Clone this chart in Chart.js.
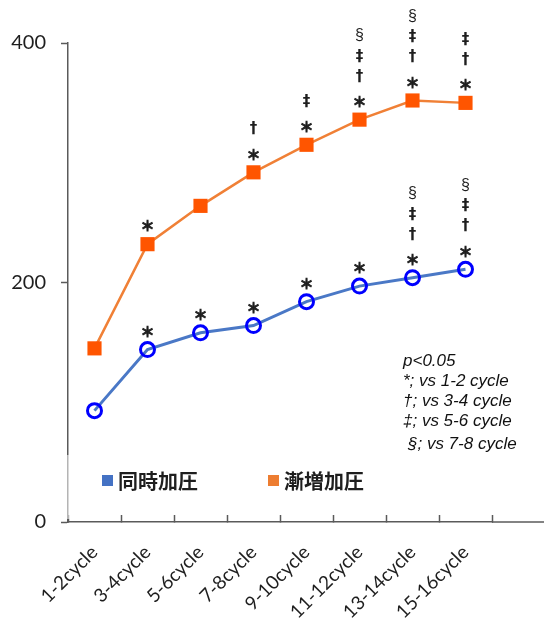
<!DOCTYPE html>
<html>
<head>
<meta charset="utf-8">
<script src="https://cdn.jsdelivr.net/npm/chart.js@4/dist/chart.umd.min.js"></script>
<style>
  html, body { margin: 0; padding: 0; background: #fff; }
  #wrap { width: 544px; height: 623px; }
</style>
</head>
<body>
<div id="wrap"><canvas id="c" width="544" height="623"></canvas></div>
<script>
// Cycle groups on the x axis
const categories = ['1-2cycle', '3-4cycle', '5-6cycle', '7-8cycle', '9-10cycle', '11-12cycle', '13-14cycle', '15-16cycle'];

// Series values
const seriesNames = ['同時加圧', '漸増加圧'];
const simultaneous = [93, 144, 158, 164, 184, 197, 204, 211];
const incremental = [145, 232, 264, 292, 315, 336, 352, 350];

// Y axis range and tick step
const yMin = 0;
const yMax = 400;
const yStep = 200;

// Significance symbols stacked above each point (bottom to top)
const simultaneousMarks = ['', '*', '*', '*', '*', '*', '*†‡§', '*†‡§'];
const incrementalMarks = ['', '*', '', '*†', '*‡', '*†‡§', '*†‡§', '*†‡'];

// Footnote explaining the symbols
const noteLines = ['p<0.05', '*; vs 1-2 cycle', '†; vs 3-4 cycle', '‡; vs 5-6 cycle', '§; vs 7-8 cycle'];

const BLUE_LINE = '#4a78c6';
const BLUE_MARK = '#0000ff';
const ORANGE_LINE = '#f08036';
const ORANGE_MARK = '#ff5500';
const AXIS = '#5a5a5a';
const INK = '#1e1e1e';

// Stacked significance symbols above the points
const symbolPlugin = {
  id: 'symbols',
  afterDatasetsDraw(chart) {
    const ctx = chart.ctx;
    const slots = [18, 43, 63, 84];
    const markSets = [simultaneousMarks, incrementalMarks];
    ctx.save();
    ctx.textAlign = 'center';
    ctx.textBaseline = 'middle';
    ctx.fillStyle = INK;
    ctx.strokeStyle = INK;
    ctx.lineWidth = 0.9;
    markSets.forEach((marks, di) => {
      const meta = chart.getDatasetMeta(di);
      marks.forEach((m, i) => {
        const pt = meta.data[i];
        [...m].forEach((sym, k) => {
          const y = pt.y - slots[k];
          if (sym === '*') {
            ctx.font = 'bold 14px "Noto Sans CJK JP"';
            ctx.fillText('＊', pt.x, y);
            ctx.strokeText('＊', pt.x, y);
          } else if (sym === '§') {
            ctx.font = '16px "Liberation Sans"';
            ctx.fillText(sym, pt.x, y);
          } else {
            ctx.font = 'bold 15px "DejaVu Sans"';
            ctx.fillText(sym, pt.x, y);
          }
        });
      });
    });
    ctx.restore();
  }
};

// Legend, footnote and the long x axis baseline
const decorPlugin = {
  id: 'decor',
  afterDraw(chart) {
    const ctx = chart.ctx;
    const area = chart.chartArea;
    const ys = chart.scales.y;
    ctx.save();

    // x axis baseline continues to the right edge
    const y0 = ys.getPixelForValue(yMin);
    ctx.strokeStyle = AXIS;
    ctx.lineWidth = 1.5;
    ctx.beginPath();
    ctx.moveTo(area.right, y0);
    ctx.lineTo(chart.width, y0);
    ctx.stroke();

    // legend box softens the lower part of the y axis
    ctx.fillStyle = 'rgba(255,255,255,0.55)';
    ctx.fillRect(area.left - 2, 455, 4, y0 - 458);

    // legend
    const legendItems = [
      { x: 102, color: '#4472c4', label: chart.data.datasets[0].label },
      { x: 268, color: '#ed7d31', label: chart.data.datasets[1].label }
    ];
    ctx.textBaseline = 'middle';
    ctx.textAlign = 'left';
    ctx.font = 'bold 20px "Noto Sans CJK JP"';
    legendItems.forEach(it => {
      ctx.fillStyle = it.color;
      ctx.fillRect(it.x, 475, 11, 11);
      ctx.fillStyle = INK;
      ctx.fillText(it.label, it.x + 16, 481);
    });

    // footnote
    ctx.fillStyle = '#111';
    ctx.font = 'italic 17px "Liberation Sans"';
    const noteY = [361, 381, 401, 421, 444];
    noteLines.forEach((t, i) => {
      ctx.fillText(t, i === 4 ? 408 : 403, noteY[i]);
    });
    ctx.restore();
  }
};

new Chart(document.getElementById('c'), {
  type: 'line',
  data: {
    labels: categories,
    datasets: [
      {
        label: seriesNames[0],
        data: simultaneous,
        borderColor: BLUE_LINE,
        borderWidth: 3,
        pointStyle: 'circle',
        pointRadius: 7,
        pointBorderWidth: 3,
        pointBorderColor: BLUE_MARK,
        pointBackgroundColor: 'rgba(255,255,255,0)',
        tension: 0
      },
      {
        label: seriesNames[1],
        data: incremental,
        borderColor: ORANGE_LINE,
        borderWidth: 2.5,
        pointStyle: 'rect',
        pointRadius: 10,
        pointBorderWidth: 0,
        pointBorderColor: ORANGE_MARK,
        pointBackgroundColor: ORANGE_MARK,
        tension: 0
      }
    ]
  },
  options: {
    responsive: false,
    animation: false,
    devicePixelRatio: 1,
    layout: { padding: { top: 43, right: 52, bottom: 0, left: 0 } },
    plugins: {
      legend: { display: false },
      tooltip: { enabled: false }
    },
    scales: {
      x: {
        type: 'category',
        offset: true,
        grid: {
          offset: true,
          drawOnChartArea: false,
          drawTicks: true,
          tickLength: -7,
          tickColor: AXIS,
          tickWidth: 1.5
        },
        border: { color: AXIS, width: 1.5 },
        ticks: {
          autoSkip: false,
          minRotation: 45,
          maxRotation: 45,
          padding: 26,
          color: INK,
          font: { family: 'Lato', size: 19 }
        },
        afterFit(scale) { scale.height = 101; }
      },
      y: {
        min: yMin,
        max: yMax,
        grid: {
          drawOnChartArea: false,
          drawTicks: true,
          tickLength: 7,
          tickColor: AXIS,
          tickWidth: 1.5
        },
        border: { color: AXIS, width: 1.5 },
        ticks: {
          stepSize: yStep,
          padding: 15,
          color: INK,
          font: { family: 'Lato', size: 20 }
        },
        afterFit(scale) { scale.width = 68; }
      }
    }
  },
  plugins: [symbolPlugin, decorPlugin]
});
</script>
</body>
</html>
